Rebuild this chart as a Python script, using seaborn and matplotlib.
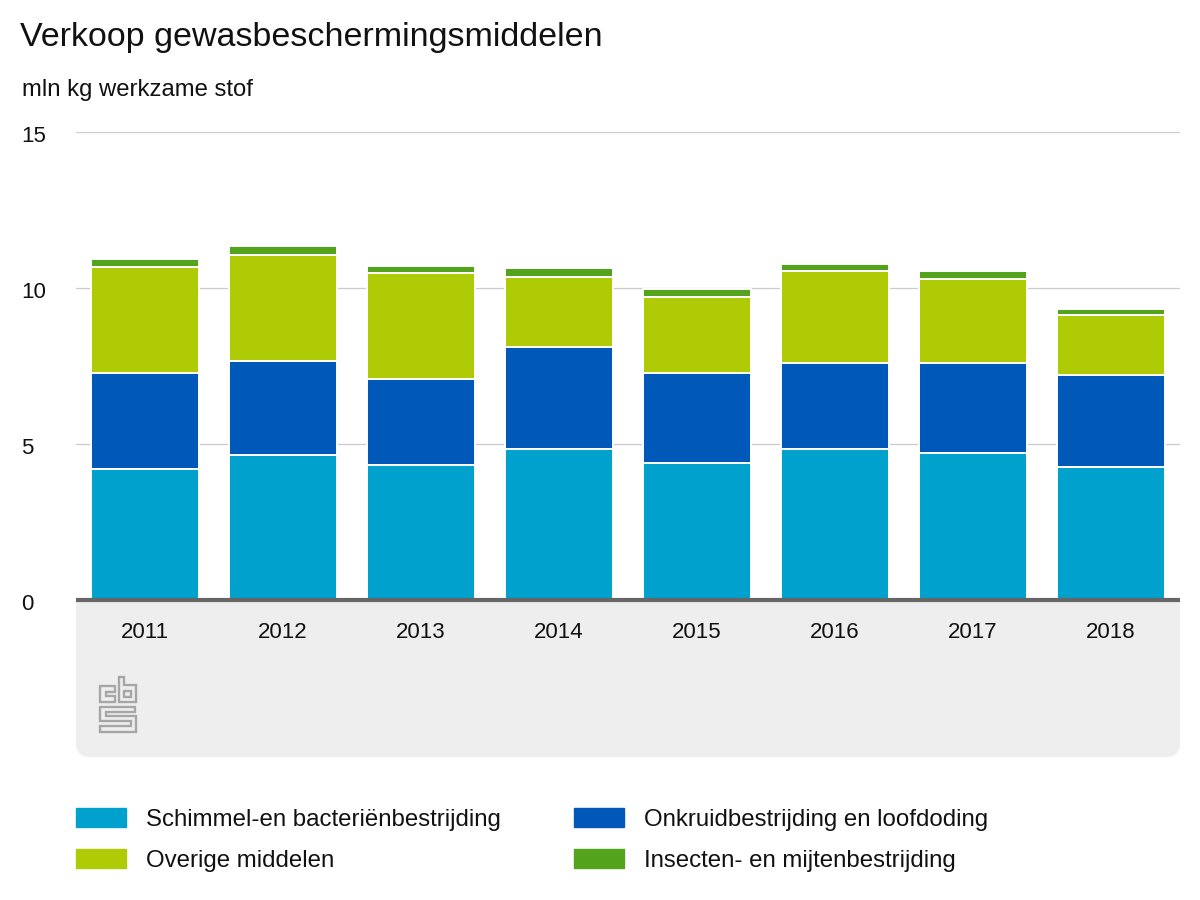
import matplotlib
matplotlib.use("Agg")
import matplotlib.pyplot as plt
from matplotlib.patches import FancyBboxPatch
from matplotlib.transforms import ScaledTranslation
import pandas as pd
import seaborn as sns

# ---------------------------------------------------------------------------
# Data (mln kg werkzame stof)
# ---------------------------------------------------------------------------

YEARS = ["2011", "2012", "2013", "2014", "2015", "2016", "2017", "2018"]
SCHIMMEL = [4.20, 4.65, 4.33, 4.84, 4.39, 4.84, 4.71, 4.26]
ONKRUID = [3.08, 3.01, 2.75, 3.27, 2.89, 2.76, 2.89, 2.95]
OVERIG = [3.39, 3.40, 3.40, 2.24, 2.43, 2.94, 2.69, 1.92]
INSECTEN = [0.26, 0.28, 0.22, 0.28, 0.26, 0.23, 0.25, 0.19]
Y_TICKS = [0, 5, 10, 15]

SERIES = [
    ("Schimmel-en bacteriënbestrijding", SCHIMMEL, "#00A1CD"),
    ("Onkruidbestrijding en loofdoding", ONKRUID, "#0058B8"),
    ("Overige middelen", OVERIG, "#AFCB05"),
    ("Insecten- en mijtenbestrijding", INSECTEN, "#53A31D"),
]

# ---------------------------------------------------------------------------
# Style
# ---------------------------------------------------------------------------

W, H = 1200, 900
sns.set_theme(style="white")
plt.rcParams["font.family"] = ["Liberation Sans", "DejaVu Sans"]

TEXT = "#111111"


def draw_logo(bg):
    # cbs logo, traced in figure pixels
    paths = [
        [(115, 686), (100, 686), (100, 702), (115, 702), (115, 696), (106, 696), (106, 692), (115, 692), (115, 686)],
        [(119, 677), (124, 677), (124, 685), (136, 685), (136, 702), (119, 702), (119, 677)],
        [(124, 691), (131, 691), (131, 697), (124, 697), (124, 691)],
        [(100, 707), (135, 707), (135, 712), (106, 712), (106, 716), (136, 716), (136, 732),
         (100, 732), (100, 726), (131, 726), (131, 721), (100, 721), (100, 707)],
    ]
    for p in paths:
        x = [pt[0] for pt in p]
        y = [pt[1] for pt in p]
        bg.plot(x, y, color="#a6a6a6", lw=1.7, solid_joinstyle="miter")


fig = plt.figure(figsize=(W / 100, H / 100), dpi=100, facecolor="white")

# background layer in pixel coordinates: grey panel and logo
bg = fig.add_axes([0, 0, 1, 1], zorder=0)
bg.set_xlim(0, W)
bg.set_ylim(H, 0)
bg.axis("off")
bg.add_patch(FancyBboxPatch(
    (76 + 14, 600 + 14), 1104 - 28, 157 - 28,
    boxstyle="round,pad=14,rounding_size=14",
    facecolor="#eeeeee", edgecolor="none",
))
bg.add_patch(plt.Rectangle((76, 600), 1104, 30, facecolor="#eeeeee", edgecolor="none"))
draw_logo(bg)

ax = fig.add_axes([76 / W, 1 - 600 / H, 1104 / W, 468 / H], zorder=1)
ax.patch.set_alpha(0)

bottom = [0.0] * len(YEARS)
for name, values, color in SERIES:
    frame = pd.DataFrame({"jaar": YEARS, "waarde": values})
    sns.barplot(
        data=frame, x="jaar", y="waarde", color=color, saturation=1,
        bottom=bottom, width=0.783, label=name, ax=ax,
        edgecolor="white", linewidth=1.4, legend=False,
    )
    bottom = [b + v for b, v in zip(bottom, values)]

ax.set_xlim(-0.5, len(YEARS) - 0.5)
ax.set_ylim(0, 15)
ax.set_xlabel("")
ax.set_ylabel("")
ax.set_yticks(Y_TICKS)
ax.set_axisbelow(True)
ax.grid(axis="y", color="#cccccc", linewidth=0.9)
ax.grid(axis="x", visible=False)
for side in ["top", "left", "right"]:
    ax.spines[side].set_visible(False)
ax.spines["bottom"].set_color("#666666")
ax.spines["bottom"].set_linewidth(3)
ax.spines["bottom"].set_capstyle("butt")
ax.tick_params(axis="x", length=0, pad=16, labelsize=16, labelcolor=TEXT)
ax.tick_params(axis="y", length=0, pad=39.5, labelsize=16, labelcolor=TEXT)
# y labels sit left aligned and slightly below their gridline
for lab in ax.get_yticklabels():
    lab.set_ha("left")
    lab.set_transform(lab.get_transform() + ScaledTranslation(0, -2 / 100, fig.dpi_scale_trans))

fig.text(20 / W, 1 - 46 / H, "Verkoop gewasbeschermingsmiddelen", fontsize=24.5, color=TEXT, va="baseline")
fig.text(22 / W, 1 - 96 / H, "mln kg werkzame stof", fontsize=17.2, color=TEXT, va="baseline")

order = [SERIES[0], SERIES[2], SERIES[1], SERIES[3]]
leg_handles = [plt.Rectangle((0, 0), 1, 1, color=c) for _, _, c in order]
fig.legend(
    leg_handles, [n for n, _, _ in order], ncols=2, frameon=False, fontsize=17.3, labelcolor=TEXT,
    loc="upper left", bbox_to_anchor=(76 / W, 1 - 808 / H), borderaxespad=0, borderpad=0,
    handlelength=2.1, handleheight=0.84, handletextpad=0.8, columnspacing=3.05, labelspacing=0.75,
)

fig.savefig("out.png", dpi=100)
